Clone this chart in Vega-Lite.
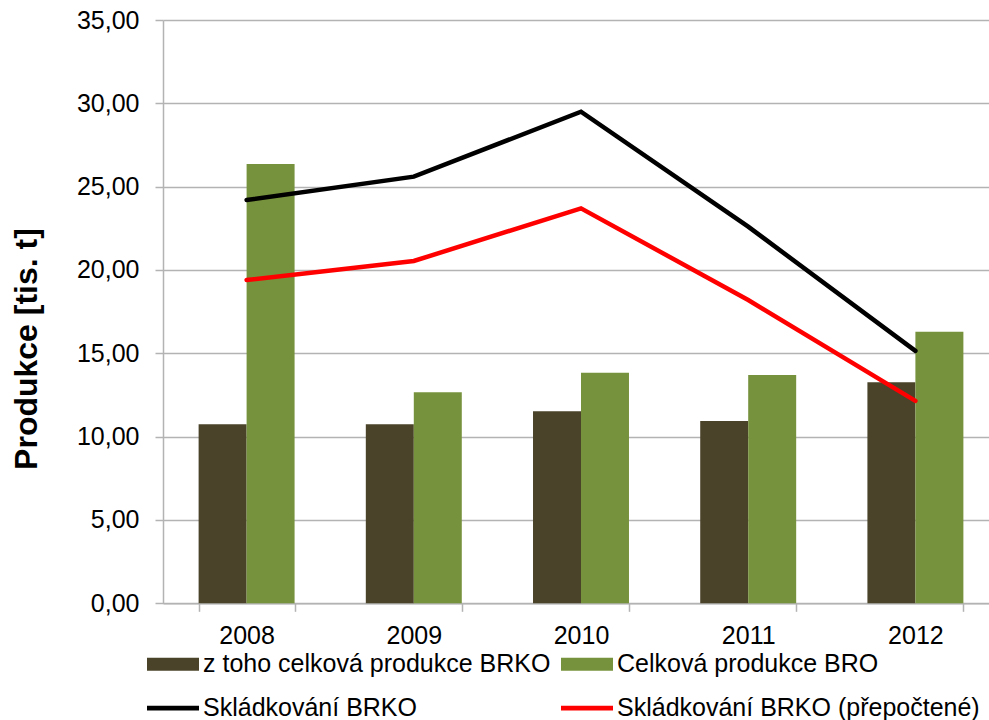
{
  "$schema": "https://vega.github.io/schema/vega-lite/v6.json",
  "autosize": "none",
  "padding": {"left": 163, "top": 20, "right": 0, "bottom": 116.67},
  "width": 826,
  "height": 583.33,
  "background": "white",
  "config": {
    "view": {"stroke": null},
    "font": "Liberation Sans",
    "axis": {"labelFont": "Liberation Sans", "titleFont": "Liberation Sans"},
    "legend": {"labelFont": "Liberation Sans"}
  },
  "data": {
    "values": [
      {"year": "2008", "series": "z toho celková produkce BRKO", "value": 10.75},
      {"year": "2009", "series": "z toho celková produkce BRKO", "value": 10.75},
      {"year": "2010", "series": "z toho celková produkce BRKO", "value": 11.52},
      {"year": "2011", "series": "z toho celková produkce BRKO", "value": 10.94},
      {"year": "2012", "series": "z toho celková produkce BRKO", "value": 13.26},
      {"year": "2008", "series": "Celková produkce BRO", "value": 26.36},
      {"year": "2009", "series": "Celková produkce BRO", "value": 12.66},
      {"year": "2010", "series": "Celková produkce BRO", "value": 13.83},
      {"year": "2011", "series": "Celková produkce BRO", "value": 13.7},
      {"year": "2012", "series": "Celková produkce BRO", "value": 16.3},
      {"year": "2008", "series": "Skládkování BRKO", "value": 24.2},
      {"year": "2009", "series": "Skládkování BRKO", "value": 25.6},
      {"year": "2010", "series": "Skládkování BRKO", "value": 29.5},
      {"year": "2011", "series": "Skládkování BRKO", "value": 22.6},
      {"year": "2012", "series": "Skládkování BRKO", "value": 15.15},
      {"year": "2008", "series": "Skládkování BRKO (přepočtené)", "value": 19.4},
      {"year": "2009", "series": "Skládkování BRKO (přepočtené)", "value": 20.54},
      {"year": "2010", "series": "Skládkování BRKO (přepočtené)", "value": 23.7},
      {"year": "2011", "series": "Skládkování BRKO (přepočtené)", "value": 18.2},
      {"year": "2012", "series": "Skládkování BRKO (přepočtené)", "value": 12.15}
    ]
  },
  "encoding": {
    "x": {
      "field": "year",
      "type": "nominal",
      "scale": {"range": [0, 836], "paddingInner": 0.426, "paddingOuter": 0.213},
      "axis": {
        "title": null,
        "labelAngle": 0,
        "labelFontSize": 25,
        "labelColor": "#000000",
        "labelPadding": 12,
        "domainColor": "#b3b3b3",
        "domainWidth": 1.5,
        "ticks": true,
        "tickBand": "extent",
        "tickSize": 8,
        "tickColor": "#b3b3b3",
        "tickWidth": 1.5,
        "grid": false
      }
    },
    "y": {
      "field": "value",
      "type": "quantitative",
      "scale": {"domain": [0, 35], "nice": false, "zero": true},
      "axis": {
        "title": "Produkce [tis. t]",
        "titleFontSize": 32,
        "titleFontWeight": "bold",
        "titleColor": "#000000",
        "titleAngle": -90,
        "titleAlign": "center",
        "titleBaseline": "alphabetic",
        "titleX": -127,
        "titleY": 328.5,
        "values": [0, 5, 10, 15, 20, 25, 30, 35],
        "labelExpr": "replace(format(datum.value, '.2f'), '.', ',')",
        "labelFontSize": 25,
        "labelColor": "#000000",
        "labelPadding": 16,
        "domainColor": "#b3b3b3",
        "domainWidth": 1.5,
        "tickSize": 8,
        "tickColor": "#b3b3b3",
        "tickWidth": 1.5,
        "grid": true,
        "gridColor": "#b3b3b3",
        "gridWidth": 1.5
      }
    },
    "color": {
      "field": "series",
      "type": "nominal",
      "scale": {
        "domain": ["z toho celková produkce BRKO", "Celková produkce BRO", "Skládkování BRKO", "Skládkování BRKO (přepočtené)"],
        "range": ["#4a4329", "#77923c", "#000000", "#ff0000"]
      },
      "legend": {
        "title": null,
        "orient": "none",
        "legendX": -2.5,
        "legendY": 631.5,
        "direction": "horizontal",
        "columns": 2,
        "columnPadding": 10,
        "rowPadding": 18,
        "padding": 0,
        "symbolSize": 625,
        "labelFontSize": 25,
        "labelColor": "#000000",
        "labelOffset": 17.5,
        "labelLimit": 500,
        "encode": {
          "symbols": {
            "update": {
              "shape": {"signal": "indexof(datum.value, 'Skládkování') === 0 ? 'M-2.08,-0.19H2.08V0.19H-2.08Z' : 'M-2.08,-0.52H2.08V0.52H-2.08Z'"},
              "fill": {"scale": "color", "field": "value"},
              "stroke": {"value": "transparent"},
              "strokeWidth": {"value": 0},
              "opacity": {"value": 1},
              "fillOpacity": {"value": 1}
            }
          }
        }
      }
    }
  },
  "layer": [
    {
      "transform": [{"filter": "indexof(datum.series, 'Skládkování') !== 0"}],
      "mark": {"type": "bar"},
      "encoding": {
        "xOffset": {
          "field": "series",
          "type": "nominal",
          "sort": ["z toho celková produkce BRKO", "Celková produkce BRO"],
          "scale": {"paddingInner": 0, "paddingOuter": 0}
        }
      }
    },
    {
      "transform": [{"filter": "indexof(datum.series, 'Skládkování') === 0"}],
      "mark": {"type": "line", "strokeWidth": 4.5, "strokeCap": "round"},
      "encoding": {}
    }
  ]
}
